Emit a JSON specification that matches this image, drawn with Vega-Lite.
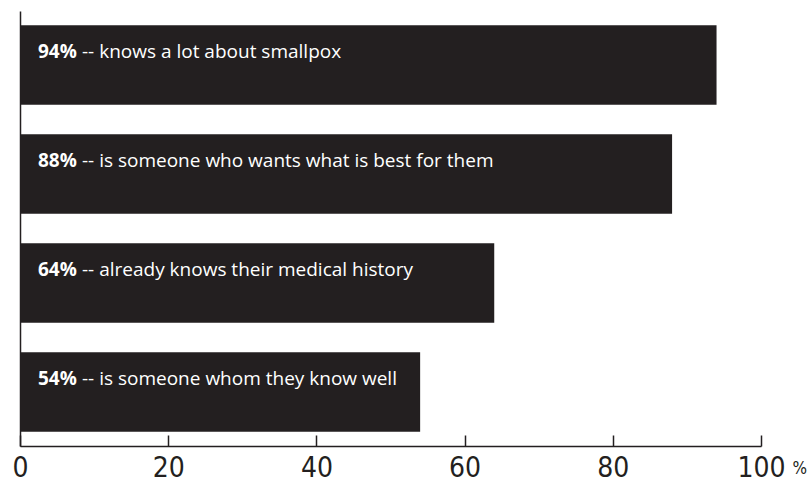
{
  "$schema": "https://vega.github.io/schema/vega-lite/v6.json",
  "width": 741,
  "height": 435,
  "autosize": "none",
  "padding": {"left": 20, "top": 11, "right": 48, "bottom": 38},
  "background": "white",
  "data": {
    "values": [
      {"desc": "knows a lot about smallpox", "pct": 94, "bold": "94%", "rest": "-- knows a lot about smallpox"},
      {"desc": "is someone who wants what is best for them", "pct": 88, "bold": "88%", "rest": "-- is someone who wants what is best for them"},
      {"desc": "already knows their medical history", "pct": 64, "bold": "64%", "rest": "-- already knows their medical history"},
      {"desc": "is someone whom they know well", "pct": 54, "bold": "54%", "rest": "-- is someone whom they know well"}
    ]
  },
  "encoding": {
    "y": {
      "field": "desc",
      "type": "nominal",
      "sort": null,
      "scale": {"paddingInner": 0.27, "paddingOuter": 0.13},
      "axis": {"labels": false, "ticks": false, "title": null, "domainColor": "#231f20", "domainWidth": 1.5}
    }
  },
  "layer": [
    {
      "mark": {"type": "bar", "color": "#231f20"},
      "encoding": {
        "x": {
          "field": "pct",
          "type": "quantitative",
          "scale": {"domain": [0, 100], "nice": false},
          "axis": {
            "values": [0, 20, 40, 60, 80, 100],
            "grid": false,
            "domainColor": "#231f20",
            "domainWidth": 1.5,
            "tickColor": "#231f20",
            "tickWidth": 1.5,
            "tickSize": -11,
            "labelFont": "DejaVu Sans Condensed, Liberation Sans, sans-serif",
            "labelFontSize": 28,
            "labelColor": "#231f20",
            "labelBaseline": "alphabetic",
            "labelPadding": 41,
            "labelFlush": false,
            "labelOverlap": false,
            "title": "%",
            "titleFont": "DejaVu Sans Condensed, Liberation Sans, sans-serif",
            "titleFontSize": 17,
            "titleFontWeight": "normal",
            "titleColor": "#231f20",
            "titleAlign": "left",
            "titleAnchor": null,
            "titleBaseline": "alphabetic",
            "titleX": 772,
            "titleY": 27
          }
        }
      }
    },
    {
      "mark": {"type": "text", "color": "white", "font": "Open Sans", "fontSize": 19, "fontWeight": "bold", "align": "left", "baseline": "alphabetic", "dx": 18, "dy": -7},
      "encoding": {
        "x": {"datum": 0, "type": "quantitative"},
        "text": {"field": "bold"}
      }
    },
    {
      "mark": {"type": "text", "color": "white", "font": "Open Sans", "fontSize": 19, "align": "left", "baseline": "alphabetic", "dx": 62, "dy": -7},
      "encoding": {
        "x": {"datum": 0, "type": "quantitative"},
        "text": {"field": "rest"}
      }
    }
  ],
  "config": {"view": {"stroke": null}}
}
